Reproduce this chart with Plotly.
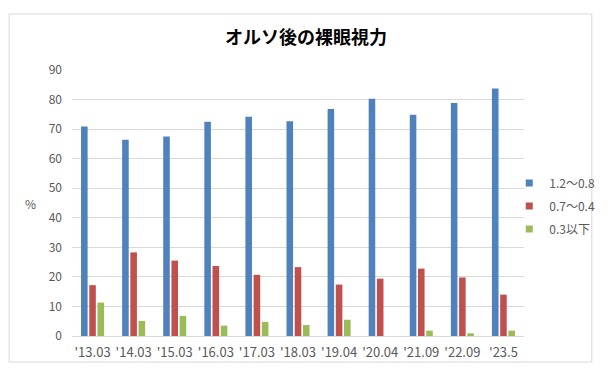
import plotly.graph_objects as go

categories = ["'13.03", "'14.03", "'15.03", "'16.03", "'17.03", "'18.03",
              "'19.04", "'20.04", "'21.09", "'22.09", "'23.5"]
s_high = [70.9, 66.4, 67.5, 72.5, 74.2, 72.7, 76.8, 80.3, 74.9, 78.8, 83.7]
s_mid = [17.2, 28.3, 25.5, 23.7, 20.7, 23.3, 17.4, 19.4, 22.8, 19.8, 14.0]
s_low = [11.3, 5.1, 6.8, 3.5, 4.8, 3.7, 5.5, None, 1.8, 0.9, 1.8]
series_names = ["1.2～0.8", "0.7～0.4", "0.3以下"]
colors = ["#4f81bd", "#c0504d", "#9bbb59"]

FONT = "Noto Sans CJK JP"

fig = go.Figure()
for name, vals, c in zip(series_names, [s_high, s_mid, s_low], colors):
    fig.add_trace(go.Bar(x=categories, y=vals, name=name, showlegend=False,
                         marker=dict(color=c, line=dict(width=0))))
# legend entries with small square symbols
for name, c in zip(series_names, colors):
    fig.add_trace(go.Scatter(x=[None], y=[None], mode="markers", name=name,
                             legendgroup=name,
                             marker=dict(symbol="square", size=7, color=c)))

L, R, T, B = 72, 80, 70, 44
W, H = 612, 380
pw, ph = W - L - R, H - T - B

def px(x):
    return (x - L) / pw

def py(y):
    return (H - B - y) / ph

fig.update_layout(
    width=W, height=H,
    margin=dict(l=L, r=R, t=T, b=B),
    paper_bgcolor="white", plot_bgcolor="white",
    barmode="group", bargap=0.4, bargroupgap=0.2,
    font=dict(family=FONT, size=12, color="#595959"),
    title=dict(text="<b>オルソ後の裸眼視力</b>", x=0.5, xanchor="center",
               y=1 - 38 / H, yanchor="middle",
               font=dict(family=FONT, size=18, color="#000000")),
    legend=dict(x=px(517), xanchor="left", y=py(206), yanchor="middle",
                font=dict(family=FONT, size=12, color="#595959"),
                tracegroupgap=4, itemwidth=30, bgcolor="rgba(0,0,0,0)"),
    showlegend=True,
    xaxis=dict(showgrid=False, showline=False, ticks="", ticklabelstandoff=7,
               tickfont=dict(size=13, color="#595959")),
    yaxis=dict(range=[0, 90], dtick=10, showgrid=True, gridcolor="#d9d9d9",
               gridwidth=1, zeroline=True, zerolinecolor="#d9d9d9",
               zerolinewidth=1, showline=False, ticks="", ticklabelstandoff=9,
               tickfont=dict(size=12, color="#595959")),
    shapes=[dict(type="rect", xref="paper", yref="paper",
                 x0=px(8), x1=px(601), y0=py(362), y1=py(14),
                 line=dict(color="#d9d9d9", width=1), layer="below")],
    annotations=[dict(text="%", xref="paper", yref="paper", x=px(30), y=py(203),
                      showarrow=False, xanchor="center", yanchor="middle",
                      font=dict(family=FONT, size=12, color="#595959"))],
)

fig.write_html("out.html", config={"displayModeBar": False},
               post_script="document.body.style.margin='0';")
